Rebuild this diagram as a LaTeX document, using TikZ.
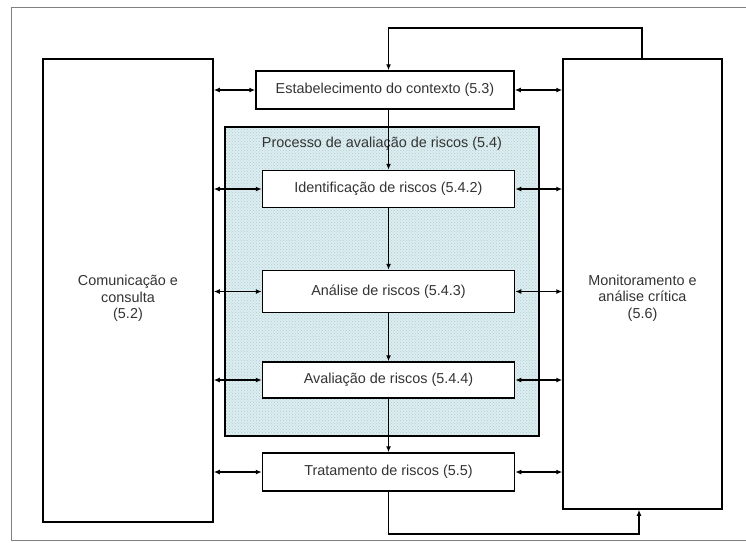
\documentclass[tikz,border=0pt]{standalone}
\usepackage{fontspec}
\setmainfont{Liberation Sans}
\usetikzlibrary{arrows.meta, calc, patterns}

\definecolor{processfill}{RGB}{221,237,240}
\definecolor{processhatch}{RGB}{172,206,214}

\begin{document}
\begin{tikzpicture}[
    x = 1pt, y = -1pt,
    line width = 1.5pt,
    >={Latex[length = 6pt, width = 5pt]},
    font = \fontsize{14.4}{16.5}\selectfont,
    text = black!80,
    stage/.style = {rectangle,
      draw,
      fill = white,
      inner sep = 0pt,
      minimum width = 252pt,
      minimum height = 38pt},
    side/.style = {rectangle,
      draw,
      fill = white,
      inner sep = 0pt}
    ]
    \useasboundingbox (0, 0) rectangle (746, 542);
    \draw [gray, line width = 1pt] (746, 7) -- (11, 7) -- (11, 540) -- (746, 540);

    \node at (382, 281.5) [rectangle, draw, preaction = {fill = processfill},
      pattern = crosshatch dots, pattern color = processhatch,
      minimum width = 314pt, minimum height = 309pt, name = processo] {};
    \node at (382, 144) [name = processotitulo] {Processo de avaliação de riscos (5.4)};

    \node at (128, 290.5) [side, minimum width = 170pt, minimum height = 463pt, name = comm,
      label = {[align = center, yshift = -8pt]center:Comunicação e\\consulta\\(5.2)}] {};
    \node at (642.5, 284) [side, minimum width = 159pt, minimum height = 450pt, name = monit,
      label = {[align = center, yshift = -14pt]center:Monitoramento e\\análise crítica\\(5.6)}] {};

    \node at (385, 90) [stage, minimum width = 258pt, name = contexto] {Estabelecimento do contexto (5.3)};
    \node at (388.5, 189) [stage, minimum height = 37pt, name = ident] {Identificação de riscos (5.4.2)};
    \node at (388.5, 291.5) [stage, minimum height = 42pt, name = analise] {Análise de riscos (5.4.3)};
    \node at (388.5, 380) [stage, minimum height = 36pt, name = avalia] {Avaliação de riscos (5.4.4)};
    \node at (388.5, 472) [stage, name = trat] {Tratamento de riscos (5.5)};

    \draw [->] (contexto.south -| ident.north) to (ident.north);
    \draw [->] (ident) to (analise);
    \draw [->] (analise) to (avalia);
    \draw [->] (avalia) to (trat);

    \foreach \s in {contexto, ident, analise, avalia, trat} {
      \draw [<->] (comm.east |- \s.west) to (\s.west);
      \draw [<->] (\s.east) to (monit.west |- \s.east);
    }

    \coordinate (topturn) at (642, 28);
    \coordinate (bottomturn) at (639, 534);
    \draw [->] (monit.north -| topturn) -- (topturn) -| (contexto.north -| ident.north);
    \draw [->] (trat.south) |- (bottomturn) -- (monit.south -| bottomturn);

  \end{tikzpicture}
\end{document}
